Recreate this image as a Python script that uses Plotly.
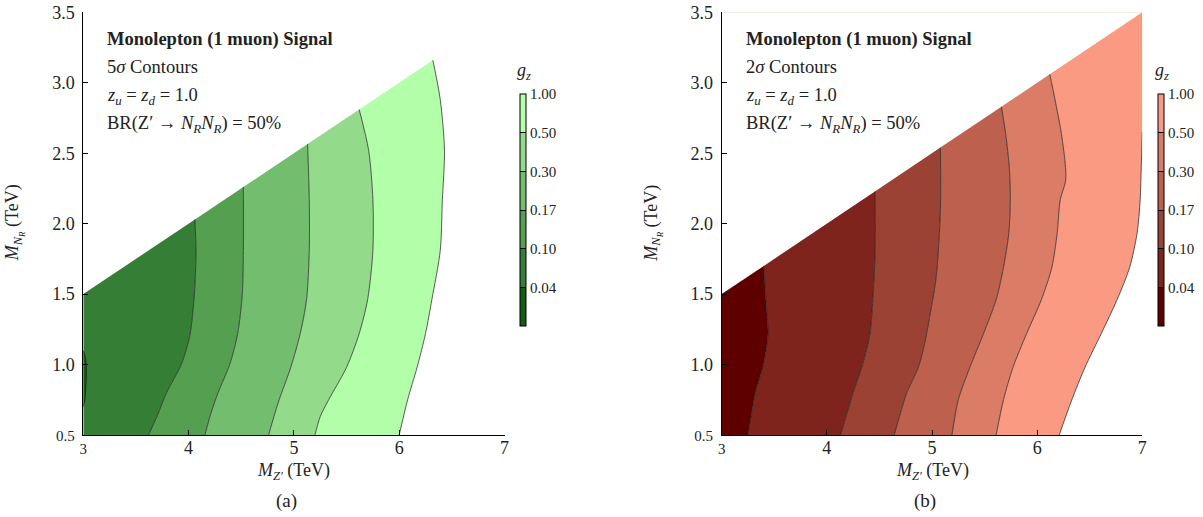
import plotly.graph_objects as go

W, H = 1203, 517
FONT = "Liberation Serif"

# ---------------- data ----------------
MZ_TICKS = [3, 4, 5, 6, 7]
MN_TICKS = [0.5, 1.0, 1.5, 2.0, 2.5, 3.0, 3.5]
LEVEL_LABELS = ["0.04", "0.10", "0.17", "0.30", "0.50", "1.00"]

GREENS = ["#135d13", "#357e35", "#559f50", "#72bd6e", "#93da8b", "#b3fea8"]
REDS = ["#5f0000", "#7f241d", "#9b4235", "#bd604d", "#da7c66", "#fb9a82"]

# 5 sigma contours (panel a): M_Z' (TeV) vs M_NR (TeV) along each g_z contour
g5_004_mz = [3.00, 3.015, 3.025, 3.03, 3.02, 3.00]
g5_004_mn = [0.70, 0.75, 0.85, 0.95, 1.05, 1.10]
g5_010_mz = [3.62, 3.71, 3.79, 3.93, 4.01, 4.055, 4.07, 4.06]
g5_010_mn = [0.50, 0.65, 0.80, 1.00, 1.20, 1.50, 1.80, 2.03]
g5_017_mz = [4.155, 4.21, 4.28, 4.39, 4.466, 4.51, 4.52, 4.52]
g5_017_mn = [0.50, 0.65, 0.80, 1.00, 1.22, 1.50, 1.81, 2.26]
g5_030_mz = [4.76, 4.81, 4.86, 4.97, 5.06, 5.12, 5.146, 5.146, 5.13]
g5_030_mn = [0.50, 0.63, 0.75, 0.98, 1.22, 1.46, 1.81, 2.17, 2.565]
g5_050_mz = [5.20, 5.25, 5.33, 5.50, 5.62, 5.70, 5.75, 5.75, 5.71, 5.62]
g5_050_mn = [0.50, 0.63, 0.75, 0.98, 1.22, 1.46, 1.81, 2.17, 2.52, 2.81]
g5_100_mz = [6.00, 6.08, 6.17, 6.25, 6.31, 6.39, 6.41, 6.43, 6.39, 6.32]
g5_100_mn = [0.50, 0.75, 0.98, 1.22, 1.46, 1.81, 2.17, 2.52, 2.88, 3.16]

# 2 sigma contours (panel b)
g2_004_mz = [3.25, 3.29, 3.32, 3.40, 3.44, 3.42, 3.40]
g2_004_mn = [0.50, 0.68, 0.80, 1.01, 1.22, 1.46, 1.70]
g2_010_mz = [4.13, 4.19, 4.25, 4.34, 4.41, 4.44, 4.46, 4.46]
g2_010_mn = [0.50, 0.65, 0.80, 1.00, 1.22, 1.50, 1.81, 2.23]
g2_017_mz = [4.64, 4.71, 4.76, 4.87, 4.93, 4.99, 5.04, 5.08, 5.08]
g2_017_mn = [0.50, 0.68, 0.80, 0.98, 1.15, 1.39, 1.62, 2.10, 2.54]
g2_030_mz = [5.19, 5.25, 5.36, 5.49, 5.61, 5.68, 5.73, 5.745, 5.735, 5.70, 5.66]
g2_030_mn = [0.50, 0.75, 0.98, 1.22, 1.46, 1.69, 1.93, 2.17, 2.40, 2.64, 2.83]
g2_050_mz = [5.61, 5.68, 5.77, 5.90, 6.04, 6.14, 6.19, 6.22, 6.27, 6.27, 6.23, 6.17, 6.12]
g2_050_mn = [0.50, 0.75, 0.98, 1.22, 1.46, 1.69, 1.93, 2.17, 2.30, 2.40, 2.64, 2.88, 3.06]
g2_100_mz = [6.21, 6.33, 6.455, 6.61, 6.76, 6.88, 6.95, 6.98, 6.99, 7.00]
g2_100_mn = [0.50, 0.75, 0.98, 1.22, 1.46, 1.69, 1.93, 2.17, 2.40, 2.65]

panels = [
    dict(ax="", colors=GREENS, title="5<i>σ</i> Contours", tag="(a)",
         sliver=(g5_004_mz, g5_004_mn),
         contours=[(g5_010_mz, g5_010_mn), (g5_017_mz, g5_017_mn),
                   (g5_030_mz, g5_030_mn), (g5_050_mz, g5_050_mn),
                   (g5_100_mz, g5_100_mn)],
         x0=83.3, x1=504.5, cbx=520, peach=False),
    dict(ax="2", colors=REDS, title="2<i>σ</i> Contours", tag="(b)",
         sliver=None,
         contours=[(g2_004_mz, g2_004_mn), (g2_010_mz, g2_010_mn),
                   (g2_017_mz, g2_017_mn), (g2_030_mz, g2_030_mn),
                   (g2_050_mz, g2_050_mn), (g2_100_mz, g2_100_mn)],
         x0=721.7, x1=1142.3, cbx=1158.3, peach=True),
]

Y_TOP, Y_BOT = 12.3, 435.0
SPL = dict(shape="spline", smoothing=0.8)


def px(x):
    return x / W


def py(y):
    return 1 - y / H


fig = go.Figure()
annotations = []
shapes = []

for p in panels:
    xa = "x" + p["ax"]
    ya = "y" + p["ax"]
    mz_lo, mn_lo = MZ_TICKS[0], MN_TICKS[0]
    n = len(p["colors"])
    first_band = n - len(p["contours"])  # index of colour left of first contour
    # left plot edge (M_Z' = 3 from bottom to kinematic edge) as fill anchor
    fig.add_trace(go.Scatter(x=[mz_lo, mz_lo], y=[mn_lo, mz_lo / 2], xaxis=xa, yaxis=ya,
                             mode="lines", line=dict(width=0), hoverinfo="skip",
                             showlegend=False))
    for k, (mz, mn) in enumerate(p["contours"]):
        xs, ys = list(mz), list(mn)
        if abs(mn[-1] - mz[-1] / 2) > 1e-3:   # close along the kinematic edge
            xs.append(mz[-1])
            ys.append(mz[-1] / 2)
        fig.add_trace(go.Scatter(x=xs, y=ys, xaxis=xa, yaxis=ya, mode="lines",
                                 fill="tonextx", fillcolor=p["colors"][first_band + k],
                                 line=dict(width=0, **SPL), hoverinfo="skip",
                                 showlegend=False))
    if p["sliver"]:
        mz, mn = p["sliver"]
        fig.add_trace(go.Scatter(x=mz, y=mn, xaxis=xa, yaxis=ya, mode="lines",
                                 fill="toself", fillcolor=p["colors"][0],
                                 line=dict(color="#1a1a1a", width=0.7, **SPL),
                                 hoverinfo="skip", showlegend=False))
    # contour lines
    for mz, mn in p["contours"]:
        fig.add_trace(go.Scatter(x=mz, y=mn, xaxis=xa, yaxis=ya, mode="lines",
                                 line=dict(color="#1a1a1a", width=0.7, **SPL),
                                 hoverinfo="skip", showlegend=False))
    # colorbar via dummy trace
    cs = []
    for i, c in enumerate(p["colors"]):
        cs.append([i / n, c])
        cs.append([(i + 1) / n, c])
    fig.add_trace(go.Scatter(
        x=[None], y=[None], xaxis=xa, yaxis=ya, mode="markers", showlegend=False,
        marker=dict(color=[0], cmin=0, cmax=n, colorscale=cs, showscale=True,
                    colorbar=dict(
                        x=px(p["cbx"]), xanchor="left", y=py(94), yanchor="top",
                        len=232, lenmode="pixels", thickness=6, thicknessmode="pixels",
                        xpad=0, ypad=0, outlinecolor="black", outlinewidth=1,
                        tickvals=list(range(1, n + 1)), ticktext=LEVEL_LABELS,
                        ticks="inside", ticklen=6, tickcolor="black", tickwidth=1,
                        tickfont=dict(family=FONT, size=15, color="#222"),
                    ))))

    def ann(x, y, text, size, xanchor="center", angle=0):
        annotations.append(dict(x=px(x), y=py(y), xref="paper", yref="paper",
                                text=text, showarrow=False, xanchor=xanchor,
                                yanchor="middle", textangle=angle,
                                font=dict(family=FONT, size=size, color="#222")))

    ann(p["cbx"] + 4, 71, "<i>g<sub>z</sub></i>", 18)
    tx = p["x0"] + 22
    ann(tx, 39, "<b>Monolepton (1 muon) Signal</b>", 18.5, "left")
    ann(tx, 67, p["title"], 18.5, "left")
    ann(tx, 96, "<i>z<sub>u</sub></i> = <i>z<sub>d</sub></i> = 1.0", 18.5, "left")
    ann(tx, 125, "BR(Z′ → <i>N<sub>R</sub>N<sub>R</sub></i>) = 50%", 18.5, "left")
    cx = (p["x0"] + p["x1"]) / 2
    ann(cx, 471, "<i>M<sub>Z′</sub></i> (TeV)", 18)
    ann(cx - 7, 501, p["tag"], 19)
    ann(p["x0"] - 69, 223, "<i>M<sub>N<sub>R</sub></sub></i> (TeV)", 18, angle=-90)
    if p["peach"]:
        shapes.append(dict(type="line", xref=xa, yref=ya, x0=MZ_TICKS[0], x1=MZ_TICKS[-1],
                           y0=MN_TICKS[-1], y1=MN_TICKS[-1],
                           line=dict(color="rgba(251,154,130,0.35)", width=1)))

axis_common = dict(showgrid=False, zeroline=False, showline=True, linecolor="black",
                   linewidth=1, ticks="inside", ticklen=5, tickcolor="black",
                   mirror=False, automargin=False,
                   tickfont=dict(family=FONT, size=18, color="#222"))

x_text = ['<span style="font-size:15px">%g</span>' % MZ_TICKS[0]] + ["%g" % v for v in MZ_TICKS[1:]]
y_text = ['<span style="font-size:15px">%.1f</span>' % MN_TICKS[0]] + ["%.1f" % v for v in MN_TICKS[1:]]

ydom = [py(Y_BOT), py(Y_TOP)]
fig.update_layout(
    width=W, height=H, margin=dict(l=0, r=0, t=0, b=0, autoexpand=False),
    paper_bgcolor="white", plot_bgcolor="white",
    xaxis=dict(domain=[px(panels[0]["x0"]), px(panels[0]["x1"])], range=[3, 7],
               tickvals=MZ_TICKS, ticktext=x_text, anchor="y", ticklabelstandoff=-4,
               **axis_common),
    yaxis=dict(domain=ydom, range=[0.5, 3.5], tickvals=MN_TICKS, ticktext=y_text,
               anchor="x", ticklabelstandoff=4, **axis_common),
    xaxis2=dict(domain=[px(panels[1]["x0"]), px(panels[1]["x1"])], range=[3, 7],
                tickvals=MZ_TICKS, ticktext=x_text, anchor="y2", ticklabelstandoff=-4,
                **axis_common),
    yaxis2=dict(domain=ydom, range=[0.5, 3.5], tickvals=MN_TICKS, ticktext=y_text,
                anchor="x2", ticklabelstandoff=4, **axis_common),
    annotations=annotations, shapes=shapes, showlegend=False,
)

fig.write_html("out.html", config={"displayModeBar": False},
               post_script="document.body.style.margin='0';document.body.style.overflow='hidden';")
